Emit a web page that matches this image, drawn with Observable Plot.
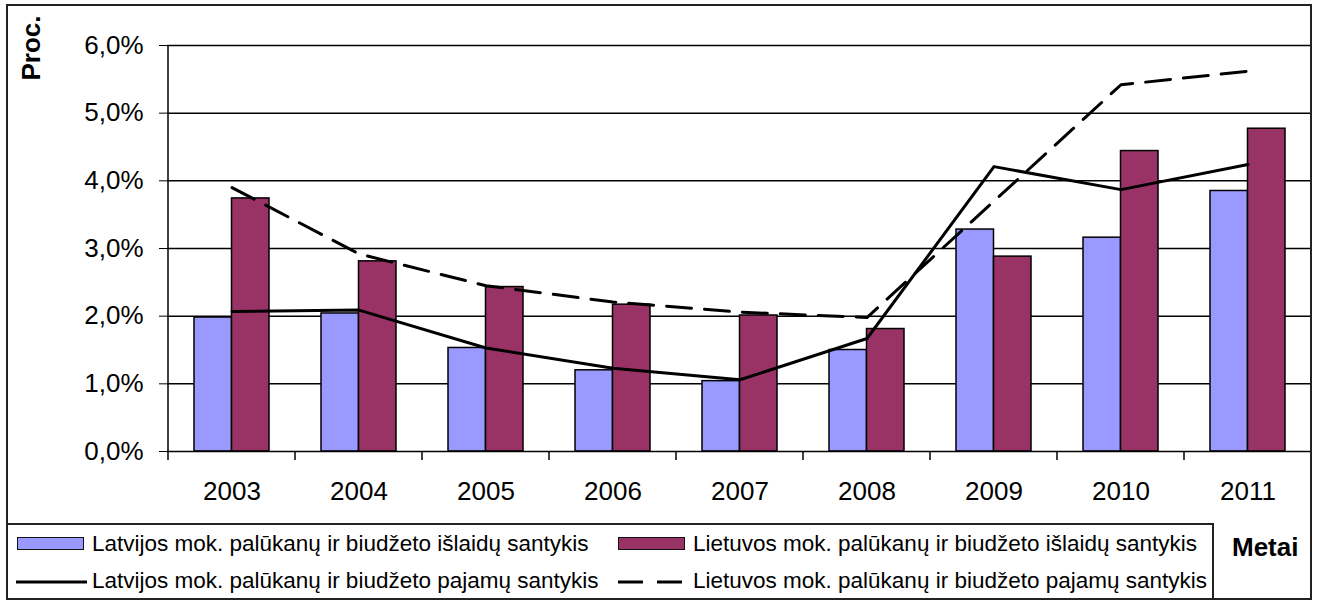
<!DOCTYPE html>
<html>
<head>
<meta charset="utf-8">
<script src="https://cdn.jsdelivr.net/npm/d3@7"></script>
<script src="https://cdn.jsdelivr.net/npm/@observablehq/plot@0.6"></script>
<style>
  html, body { margin: 0; padding: 0; background: #fff; }
  #chart { position: relative; width: 1320px; height: 601px; overflow: hidden;
           font-family: "Liberation Sans", Arial, sans-serif; color: #000; }
  #chart svg.plot { position: absolute; left: 0; top: 0; }
  .frame { position: absolute; left: 6px; top: 4px; width: 1306px; height: 596px;
           border: 2px solid #222; box-sizing: border-box; pointer-events: none; }
  .legend-box { position: absolute; left: 6px; top: 523px; width: 1208px; height: 77px;
                border: 2px solid #222; box-sizing: border-box; background: #fff; }
  .lg-text { position: absolute; font-size: 22.5px; line-height: 30px; white-space: nowrap; }
  .lg-swatch { position: absolute; width: 65px; height: 11px; border: 1.5px solid #111; }
  .lg-line { position: absolute; }
  .axis-title { position: absolute; font-size: 26px; font-weight: bold; white-space: nowrap; line-height: 30px; }
</style>
</head>
<body>
<div id="chart"></div>
<script>
// Years on the horizontal axis
const years = ["2003", "2004", "2005", "2006", "2007", "2008", "2009", "2010", "2011"];

// Interest payments on state debt as a share of budget expenditure (%)
const latviaExpenditure = [1.98, 2.04, 1.53, 1.20, 1.04, 1.50, 3.28, 3.16, 3.85];
const lithuaniaExpenditure = [3.74, 2.81, 2.43, 2.17, 2.01, 1.81, 2.88, 4.44, 4.77];

// Interest payments on state debt as a share of budget revenue (%)
const latviaRevenue = [2.07, 2.09, 1.53, 1.23, 1.06, 1.67, 4.21, 3.87, 4.24];
const lithuaniaRevenue = [3.90, 2.92, 2.45, 2.21, 2.06, 1.98, 3.70, 5.42, 5.62];

// Y axis ticks (%)
const yTicks = [0, 1, 2, 3, 4, 5, 6];

// Legend entries
const legendLabels = [
  "Latvijos mok. palūkanų ir biudžeto išlaidų santykis",
  "Lietuvos mok. palūkanų ir biudžeto išlaidų santykis",
  "Latvijos mok. palūkanų ir biudžeto pajamų santykis",
  "Lietuvos mok. palūkanų ir biudžeto pajamų santykis"
];

const blue = "#9999ff";
const plum = "#993366";

const rows = (values) => years.map((year, i) => ({year, value: values[i]}));

// Band boundary ticks under the x axis plus the left axis line
function axisLines(index, scales) {
  const x = scales.x, y = scales.y;
  const step = x(years[1]) - x(years[0]);
  const g = d3.create("svg:g").attr("stroke", "#000").attr("stroke-width", 1.5);
  const bounds = years.map(yr => x(yr)).concat([x(years[years.length - 1]) + step]);
  for (const bx of bounds) {
    g.append("line").attr("x1", bx).attr("x2", bx).attr("y1", y(0)).attr("y2", y(0) + 9);
  }
  g.append("line").attr("x1", x(years[0])).attr("x2", x(years[0]))
    .attr("y1", y(yTicks[yTicks.length - 1])).attr("y2", y(0));
  return g.node();
}

const plot = Plot.plot({
  width: 1320,
  height: 520,
  marginLeft: 167,
  marginRight: 9,
  marginTop: 45,
  marginBottom: 69,
  style: {fontFamily: "'Liberation Sans', Arial, sans-serif", fontSize: "26px", color: "#000", background: "transparent"},
  x: {domain: years, padding: 0, tickSize: 0, tickPadding: 30, label: null},
  y: {domain: [0, 6], ticks: yTicks, tickSize: 8, tickPadding: 16, label: null,
      tickFormat: d => d.toFixed(1).replace(".", ",") + "%"},
  marks: [
    Plot.ruleY(yTicks.slice(1), {stroke: "#000", strokeWidth: 1.5}),
    Plot.barY(rows(latviaExpenditure), {x: "year", y: "value", fill: blue, stroke: "#000",
      strokeWidth: 1.5, insetLeft: 26, insetRight: 63.5}),
    Plot.barY(rows(lithuaniaExpenditure), {x: "year", y: "value", fill: plum, stroke: "#000",
      strokeWidth: 1.5, insetLeft: 63.5, insetRight: 26}),
    Plot.ruleY([0], {stroke: "#000", strokeWidth: 1.5}),
    axisLines,
    Plot.line(rows(latviaRevenue), {x: "year", y: "value", stroke: "#000", strokeWidth: 3}),
    Plot.line(rows(lithuaniaRevenue), {x: "year", y: "value", stroke: "#000", strokeWidth: 3,
      strokeDasharray: "25,13"})
  ]
});
plot.classList.add("plot");

const chart = document.getElementById("chart");
chart.appendChild(plot);

// Frame, legend and axis titles
const html = `
  <div class="frame"></div>
  <div class="legend-box"></div>
  <div class="lg-swatch" style="left:17px; top:537px; background:${blue};"></div>
  <div class="lg-text" style="left:92px; top:529px;">${legendLabels[0]}</div>
  <div class="lg-swatch" style="left:618px; top:537px; background:${plum};"></div>
  <div class="lg-text" style="left:693px; top:529px;">${legendLabels[1]}</div>
  <svg class="lg-line" style="left:16px; top:576px;" width="72" height="12">
    <line x1="0" x2="71" y1="6" y2="6" stroke="#000" stroke-width="3"/></svg>
  <div class="lg-text" style="left:92px; top:566px;">${legendLabels[2]}</div>
  <svg class="lg-line" style="left:618px; top:576px;" width="68" height="12">
    <line x1="0" x2="64" y1="6" y2="6" stroke="#000" stroke-width="3" stroke-dasharray="25,14"/></svg>
  <div class="lg-text" style="left:693px; top:566px;">${legendLabels[3]}</div>
  <div class="axis-title" style="left:1232px; top:532px;">Metai</div>
  <div class="axis-title" style="left:31px; top:48px; transform: translate(-50%, -50%) rotate(-90deg);">Proc.</div>
`;
chart.insertAdjacentHTML("beforeend", html);
</script>
</body>
</html>
